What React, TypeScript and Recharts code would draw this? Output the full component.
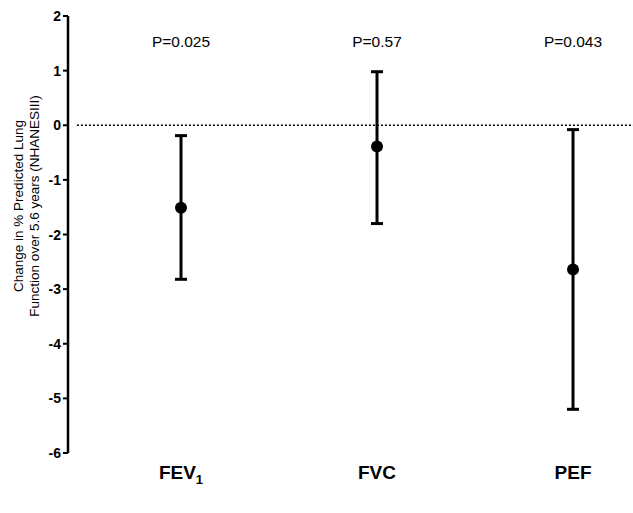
import React from 'react';
import { ComposedChart, Scatter, ErrorBar, XAxis, YAxis, ReferenceLine, ReferenceDot } from 'recharts';

const categories = ['FEV', 'FVC', 'PEF'];
const categorySubscripts = ['1', '', ''];
const means = [-1.51, -0.39, -2.64];
const lowers = [-2.82, -1.8, -5.2];
const uppers = [-0.19, 0.98, -0.08];
const pValues = ['P=0.025', 'P=0.57', 'P=0.043'];
const yTicks = [-6, -5, -4, -3, -2, -1, 0, 1, 2];
const P_LABEL_Y = 1.54;
const X_MIN = 0.4235;
const X_MAX = 3.306;

const data = categories.map((c, i) => ({
  x: i + 1,
  mean: means[i],
  err: [means[i] - lowers[i], uppers[i] - means[i]],
}));

const FONT = 'Liberation Sans, Arial, sans-serif';

const XTick = (props: any) => {
  const { x, y, payload } = props;
  const i = payload.value - 1;
  return (
    <text x={x} y={y + 18} textAnchor="middle" fontFamily={FONT} fontWeight="bold" fontSize={19} fill="#000">
      <tspan>{categories[i]}</tspan>
      {categorySubscripts[i] ? (
        <tspan fontSize={13} dy={5}>{categorySubscripts[i]}</tspan>
      ) : null}
    </text>
  );
};

const YTick = (props: any) => {
  const { x, y, payload } = props;
  return (
    <text x={x} y={y} dy={5} textAnchor="end" fontFamily={FONT} fontWeight="bold" fontSize={14} fill="#000">
      {payload.value}
    </text>
  );
};

const YLabel = (props: any) => {
  const cx = 26;
  const cy = 206;
  return (
    <g transform={`translate(${cx},${cy}) rotate(-90)`}>
      <text x={0} y={-3} textAnchor="middle" fontFamily={FONT} fontSize={13.5} fill="#000">
        Change in % Predicted Lung
      </text>
      <text x={0} y={13} textAnchor="middle" fontFamily={FONT} fontSize={13.5} fill="#000">
        Function over 5.6 years (NHANESIII)
      </text>
    </g>
  );
};

const Dot = (props: any) => {
  const { cx, cy } = props;
  return <circle cx={cx} cy={cy} r={6} fill="#000" />;
};

export default function App() {
  return (
    <div style={{ position: 'absolute', left: 0, top: 0, background: '#fff' }}>
      <ComposedChart width={633} height={513} data={data} margin={{ top: 16, right: 0, bottom: 0, left: 0 }}>
        <XAxis
          type="number"
          dataKey="x"
          domain={[X_MIN, X_MAX]}
          ticks={[1, 2, 3]}
          axisLine={false}
          tickLine={false}
          height={60}
          tick={<XTick />}
          allowDataOverflow
        />
        <YAxis
          type="number"
          domain={[-6, 2]}
          ticks={yTicks}
          width={68}
          axisLine={{ stroke: '#000', strokeWidth: 2.5 }}
          tickLine={{ stroke: '#000', strokeWidth: 2 }}
          tickSize={5}
          tickMargin={2}
          tick={<YTick />}
          label={<YLabel />}
          allowDataOverflow
        />
        <ReferenceLine
          segment={[{ x: 0.469, y: 0 }, { x: X_MAX, y: 0 }]}
          stroke="#000"
          strokeWidth={1.5}
          strokeDasharray="2 2"
        />
        {pValues.map((p, i) => (
          <ReferenceDot
            key={p}
            x={i + 1}
            y={P_LABEL_Y}
            r={0}
            fill="none"
            stroke="none"
            label={{ value: p, position: 'center', fontFamily: FONT, fontSize: 15.5, fill: '#000' }}
          />
        ))}
        <Scatter dataKey="mean" isAnimationActive={false} shape={<Dot />}>
          <ErrorBar dataKey="err" direction="y" width={6} strokeWidth={3} stroke="#000" />
        </Scatter>
      </ComposedChart>
    </div>
  );
}
